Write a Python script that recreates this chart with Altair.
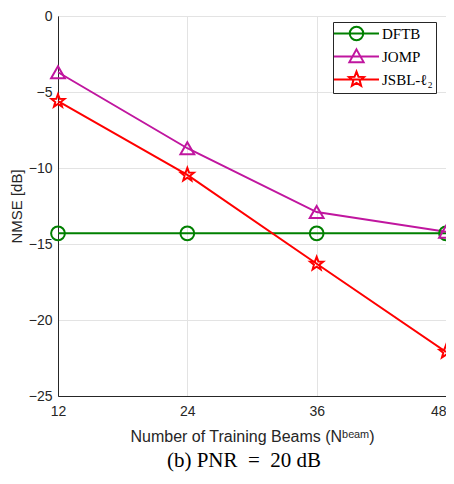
import math
import altair as alt
import pandas as pd

# ---- data ----
beams = [12, 24, 36, 48]
series_names = ["DFTB", "JOMP", "JSBL-ℓ₂"]
dftb = [-14.3, -14.3, -14.3, -14.3]
jomp = [-3.7, -8.7, -12.9, -14.2]
jsbl = [-5.6, -10.45, -16.3, -22.1]
colors = ["#008000", "#c0169f", "#ff0000"]
y_ticks = [-25, -20, -15, -10, -5, 0]

rows = []
for name, vals in zip(series_names, [dftb, jomp, jsbl]):
    for b, v in zip(beams, vals):
        rows.append({"beams": b, "nmse": v, "series": name})
df = pd.DataFrame(rows)


def star_path(r_out=1.0, r_in=0.42):
    pts = []
    for i in range(10):
        r = r_out if i % 2 == 0 else r_in
        a = -math.pi / 2 + i * math.pi / 5
        pts.append((r * math.cos(a), r * math.sin(a)))
    return "M" + "L".join(f"{x:.3f},{y:.3f}" for x, y in pts) + "Z"


star = star_path()

# legend symbols: short line + marker
rc = 0.9
leg_circle = (f"M-3,0L3,0M-{rc},0A{rc},{rc} 0 1,0 {rc},0A{rc},{rc} 0 1,0 -{rc},0")
leg_tri = "M-3,0L3,0M0,-0.95L0.95,0.75L-0.95,0.75Z"
leg_star = "M-3,0L3,0" + star_path(1.05, 0.45)

x_enc = alt.X("beams:Q", scale=alt.Scale(domain=[12, 48], nice=False),
              axis=alt.Axis(values=beams, title="Number of Training Beams (Nᵇᵉᵃᵐ)",
                            titlePadding=10, labelPadding=8, titleFontSize=16,
                            labelAlign={"expr": "datum.value == 48 ? 'right' : 'center'"},
                            ))
y_enc = alt.Y("nmse:Q", scale=alt.Scale(domain=[-25, 0], nice=False),
              axis=alt.Axis(values=y_ticks, title="NMSE [dB]", titlePadding=4,
                            labelPadding=6))
color_enc = alt.Color("series:N", scale=alt.Scale(domain=series_names, range=colors),
                      legend=None)

lines = alt.Chart(df).mark_line(strokeWidth=2).encode(x=x_enc, y=y_enc, color=color_enc)

points = alt.Chart(df).mark_point(filled=False, strokeWidth=2, size=190, opacity=1).encode(
    x=x_enc, y=y_enc, color=color_enc,
    shape=alt.Shape("series:N",
                    scale=alt.Scale(domain=series_names,
                                    range=["circle", "triangle-up", star]),
                    legend=None),
)

legend_layer = alt.Chart(df).mark_point(filled=False, strokeWidth=2, opacity=0).encode(
    x=x_enc, y=y_enc,
    color=alt.Color("series:N", scale=alt.Scale(domain=series_names, range=colors),
                    legend=alt.Legend(title=None)),
    shape=alt.Shape("series:N",
                    scale=alt.Scale(domain=series_names,
                                    range=[leg_circle, leg_tri, leg_star]),
                    legend=alt.Legend(title=None)),
)

chart = (
    alt.layer(lines, points, legend_layer)
    .resolve_scale(shape="independent", color="independent")
    .properties(
        width=388, height=380,
        autosize=alt.AutoSizeParams(type="none"),
        padding={"left": 50, "top": 8, "right": 0, "bottom": 80},
        title=alt.TitleParams(text="(b) PNR\u2002=\u200220 dB", orient="bottom",
                              font="Liberation Serif", fontSize=21,
                              fontWeight="normal", color="black",
                              dx=-8, offset=6),
    )
    .configure_view(stroke="#262626", strokeWidth=1)
    .configure_axis(
        labelFont="Liberation Sans", labelFontSize=14, labelColor="#262626",
        titleFont="Liberation Sans", titleFontSize=15, titleColor="#262626",
        titleFontWeight="normal",
        grid=True, gridColor="#e3e3e3", gridWidth=1,
        domainColor="#262626", domainWidth=1,
        ticks=False,
    )
    .configure_legend(
        orient="none", legendX=275, legendY=6,
        strokeColor="#262626", fillColor="white", padding=3,
        labelFont="Liberation Serif", labelFontSize=15, labelColor="black",
        symbolSize=225, symbolStrokeWidth=2, symbolOffset=12, labelOffset=17,
        rowPadding=0,
    )
)

chart.save("out.html", embed_options={"renderer": "svg", "actions": False})
